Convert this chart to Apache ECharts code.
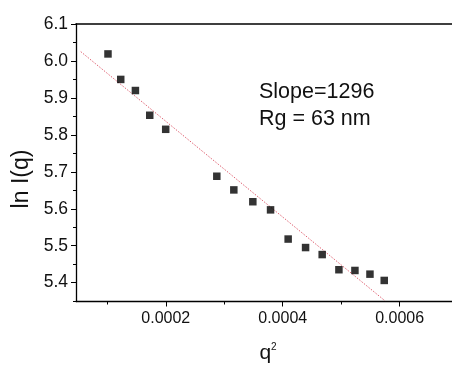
<!DOCTYPE html>
<html>
<head>
<meta charset="utf-8">
<script src="https://cdn.jsdelivr.net/npm/echarts@6/dist/echarts.min.js"></script>
<style>
  html, body { margin: 0; padding: 0; background: #fff; }
  #chart { width: 452px; height: 369px; }
</style>
</head>
<body>
<div id="chart"></div>
<script>
// Guinier plot: ln I(q) against q^2
const q2Values = [1.012e-4, 1.230e-4, 1.481e-4, 1.726e-4, 1.999e-4, 2.873e-4, 3.164e-4, 3.489e-4,
                  3.792e-4, 4.093e-4, 4.391e-4, 4.675e-4, 4.961e-4, 5.235e-4, 5.492e-4, 5.736e-4];
const lnIValues = [6.019, 5.950, 5.920, 5.853, 5.815, 5.688, 5.651, 5.619,
                   5.597, 5.518, 5.495, 5.476, 5.435, 5.433, 5.423, 5.406];

// Linear fit: ln I = intercept - 1296 * q^2
const fitSlope = -1296;
const fitIntercept = 6.096;
const fitRange = [0.546e-4, 5.75e-4];

const xLabelTicks = [0.0002, 0.0004, 0.0006];
const xMinorTicks = [0.0001, 0.0003, 0.0005];
const yLabelTicks = [5.4, 5.5, 5.6, 5.7, 5.8, 5.9, 6.0, 6.1];
const yMinorTicks = [5.35, 5.45, 5.55, 5.65, 5.75, 5.85, 5.95, 6.05];

const yTitle = 'ln I(q)';
const annotation = ['Slope=1296', 'Rg = 63 nm'];

const FONT = '"Liberation Sans", Arial, sans-serif';
const X_MIN = 0.0000465, X_MAX = 0.0006895;
const Y_MIN = 5.349, Y_MAX = 6.1;

const points = q2Values.map((x, i) => [x, lnIValues[i]]);
const fitLine = fitRange.map(x => [x, fitIntercept + fitSlope * x]);

const chart = echarts.init(document.getElementById('chart'), null, { renderer: 'canvas' });

const lineStyleAxis = { color: '#000', width: 1.3 };

chart.setOption({
  animation: false,
  backgroundColor: '#fff',
  grid: { left: 76, right: 0, top: 24, bottom: 66 },
  xAxis: [
    {
      type: 'value', min: X_MIN, max: X_MAX, position: 'bottom',
      axisLine: { show: true, onZero: false, lineStyle: lineStyleAxis },
      axisTick: { show: true, length: 5, customValues: xLabelTicks, lineStyle: { color: '#000' } },
      axisLabel: {
        customValues: xLabelTicks, margin: 9, color: '#111', fontSize: 16, fontFamily: FONT,
        formatter: v => v.toFixed(4)
      },
      splitLine: { show: false },
      name: '{b|q}{s|2}', nameLocation: 'middle', nameGap: 41,
      nameTextStyle: {
        padding: [0, 0, 0, 8],
        rich: {
          b: { fontSize: 21, fontFamily: FONT, color: '#111' },
          s: { fontSize: 10, fontFamily: FONT, color: '#111', verticalAlign: 'top', padding: [0, 0, 12, 0] }
        }
      }
    },
    {
      type: 'value', min: X_MIN, max: X_MAX, position: 'bottom',
      axisLine: { show: false },
      axisTick: { show: true, length: 3, customValues: xMinorTicks, lineStyle: { color: '#000' } },
      axisLabel: { show: false },
      splitLine: { show: false }
    },
    {
      type: 'value', min: X_MIN, max: X_MAX, position: 'top',
      axisLine: { show: true, onZero: false, lineStyle: { color: '#000', width: 1.6 } },
      axisTick: { show: false }, axisLabel: { show: false }, splitLine: { show: false }
    }
  ],
  yAxis: [
    {
      type: 'value', min: Y_MIN, max: Y_MAX, position: 'left',
      axisLine: { show: true, onZero: false, lineStyle: lineStyleAxis },
      axisTick: { show: true, length: 5, customValues: yLabelTicks, lineStyle: { color: '#000' } },
      axisLabel: {
        customValues: yLabelTicks, margin: 8, color: '#111', fontSize: 17.5, fontFamily: FONT,
        formatter: v => v.toFixed(1)
      },
      splitLine: { show: false }
    },
    {
      type: 'value', min: Y_MIN, max: Y_MAX, position: 'left',
      axisLine: { show: false },
      axisTick: { show: true, length: 3, customValues: yMinorTicks, lineStyle: { color: '#000' } },
      axisLabel: { show: false },
      splitLine: { show: false }
    }
  ],
  series: [
    {
      type: 'line', data: fitLine, xAxisIndex: 0, yAxisIndex: 0,
      showSymbol: false, symbol: 'none', silent: true,
      lineStyle: { color: '#d9485a', width: 1, type: [1.5, 1.5], opacity: 0.85 },
      z: 1
    },
    {
      type: 'scatter', data: points, xAxisIndex: 0, yAxisIndex: 0,
      symbol: 'rect', symbolSize: 7.5,
      itemStyle: { color: '#000' },
      z: 2
    }
  ],
  graphic: [
    {
      type: 'text', x: 22, y: 179, rotation: Math.PI / 2,
      style: { text: yTitle, font: '23px ' + FONT, fill: '#111', textAlign: 'center', textVerticalAlign: 'middle' }
    },
    { type: 'text', left: 259, top: 81, style: { text: annotation[0], font: '21.5px ' + FONT, fill: '#111' } },
    { type: 'text', left: 259, top: 108, style: { text: annotation[1], font: '21.5px ' + FONT, fill: '#111' } }
  ]
});
</script>
</body>
</html>
